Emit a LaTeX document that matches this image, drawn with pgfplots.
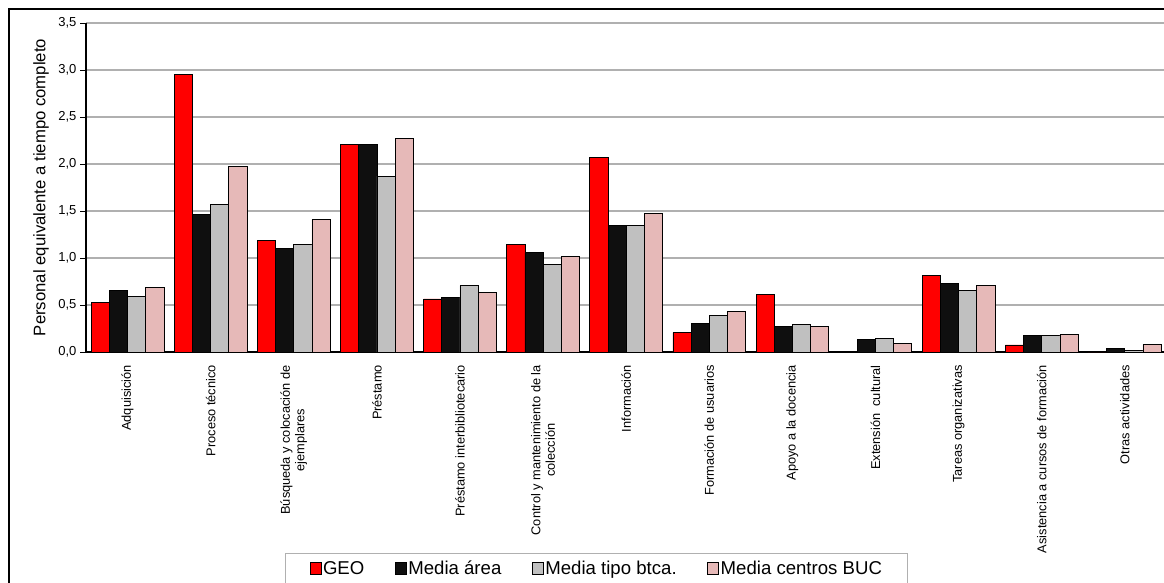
\documentclass[border=0pt]{standalone}
\usepackage{fontspec}
\setmainfont{Liberation Sans}
\usepackage{pgfplots}
\usepackage{pgfplotstable}
\pgfplotsset{compat=1.18}
\definecolor{cgeo}{HTML}{FF0000}
\definecolor{carea}{HTML}{0F0F0F}
\definecolor{ctipo}{HTML}{C0C0C0}
\definecolor{cbuc}{HTML}{E6B9B8}
\definecolor{gridgray}{HTML}{B0B0B0}

\pgfplotstableread{
x  geo   area  tipo  buc
0  0.525 0.656 0.590 0.690
1  2.957 1.460 1.574 1.970
2  1.190 1.106 1.146 1.410
3  2.209 2.209 1.872 2.273
4  0.564 0.580 0.705 0.630
5  1.140 1.056 0.933 1.018
6  2.070 1.348 1.344 1.470
7  0.205 0.305 0.390 0.436
8  0.614 0.270 0.294 0.273
9  0.010 0.135 0.145 0.090
10 0.811 0.733 0.659 0.709
11 0.075 0.180 0.177 0.188
12 0.000 0.040 0.020 0.080
}\datatable

\pgfplotsset{sqlegend/.style={legend image code/.code={\draw[##1, draw=black, line width=0.8pt] (0pt,-5.6pt) rectangle (11.2pt,5.6pt);}}}

\begin{document}
\begin{tikzpicture}
\begin{axis}[
  at={(86pt,230pt)}, anchor=south west,
  scale only axis, width=1078pt, height=329pt,
  xmin=-0.5, xmax=12.472, ymin=0, ymax=3.5,
  ybar=0pt, bar width=18.17pt,
  axis x line*=bottom, axis y line*=left,
  axis line style={line width=1.2pt, black},
  ymajorgrids, grid style={gridgray, line width=1.2pt},
  ytick={0,0.5,1,1.5,2,2.5,3,3.5},
  xtick={0,...,12},
  xticklabels={Adquisición, Proceso técnico, {Búsqueda y colocación de\\ejemplares}, Préstamo, Préstamo interbibliotecario, {Control y mantenimiento de la\\colección}, Información, Formación de usuarios, Apoyo a la docencia, Extensión\ \ cultural, Tareas organizativas, Asistencia a cursos de formación, Otras actividades},
  tick align=outside, major tick length=6pt,
  xtick style={draw=none},
  ytick style={black, line width=1pt},
  yticklabel style={font=\fontsize{13}{15}\selectfont},
  /pgf/number format/.cd, fixed, fixed zerofill, precision=1, use comma, assume math mode=true,
  /pgfplots/.cd,
  xticklabel style={rotate=90, anchor=east, align=center, font=\fontsize{12.8}{14.5}\selectfont, inner sep=0pt, xshift=-7pt},
  ylabel={Personal equivalente a tiempo completo},
  ylabel style={font=\fontsize{16.7}{19}\selectfont, at={(axis description cs:-0.04174,0.5)}, anchor=center},
  legend columns=4,
  legend style={at={(axis description cs:0.1846,-0.612)}, anchor=north west, draw=gridgray, line width=1pt,
    font=\fontsize{18.6}{22}\selectfont, nodes={inner sep=1.5pt}, inner xsep=24pt, inner ysep=5.5pt,
    /tikz/every even column/.append style={column sep=29pt}},
]
\addplot[fill=cgeo, draw=black, line width=0.7pt, sqlegend] table[x=x, y=geo] {\datatable};
\addplot[fill=carea, draw=black, line width=0.7pt, sqlegend] table[x=x, y=area] {\datatable};
\addplot[fill=ctipo, draw=black, line width=0.7pt, sqlegend] table[x=x, y=tipo] {\datatable};
\addplot[fill=cbuc, draw=black, line width=0.7pt, sqlegend] table[x=x, y=buc] {\datatable};
\legend{GEO, Media área, Media tipo btca., Media centros BUC}
\end{axis}
\draw[black, line width=1.2pt] (9pt,-20pt) -- (9pt,573pt) -- (1200pt,573pt);
\pgfresetboundingbox
\path[use as bounding box] (0pt,0pt) rectangle (1164pt,582pt);
\end{tikzpicture}
\end{document}
